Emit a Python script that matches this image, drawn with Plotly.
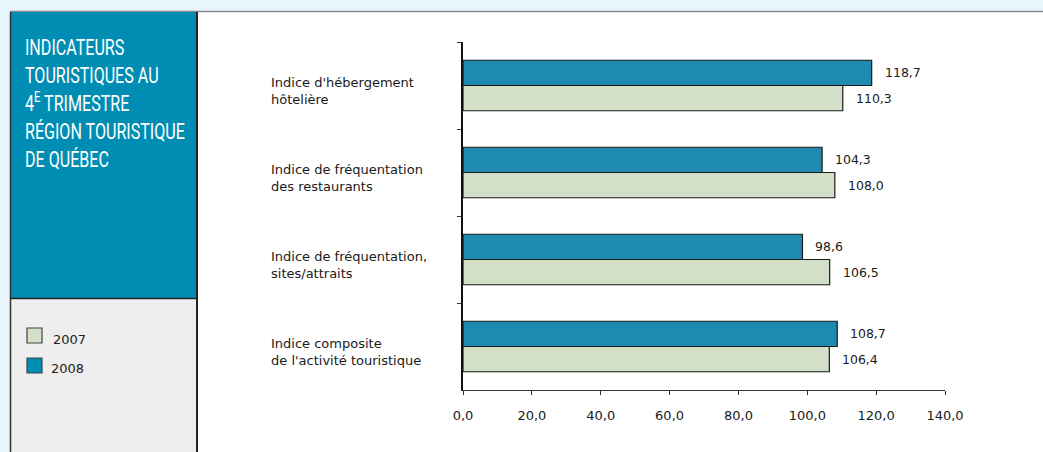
import plotly.graph_objects as go

categories = [
    "Indice d'hébergement<br>hôtelière",
    "Indice de fréquentation<br>des restaurants",
    "Indice de fréquentation,<br>sites/attraits",
    "Indice composite<br>de l'activité touristique",
]
cat_keys = ["c1", "c2", "c3", "c4"]
values_2008 = [118.7, 104.3, 98.6, 108.7]
values_2007 = [110.3, 108.0, 106.5, 106.4]
series_names = ["2007", "2008"]
x_ticks = [0, 20, 40, 60, 80, 100, 120, 140]

W, H = 1043, 452
L, R, T, B = 463, 98, 42, 62
PW, PH = W - L - R, H - T - B

def px(p):
    return (p - L) / PW

def py(p):
    return 1 - (p - T) / PH

C2008 = "#1e8ab0"
C2007 = "#d3dfc6"
PANEL = "#008db3"

fig = go.Figure()
fig.add_trace(go.Bar(y=cat_keys, x=values_2008, orientation="h", name="2008",
                     marker=dict(color=C2008, line=dict(color="#1a1a1a", width=1.2))))
fig.add_trace(go.Bar(y=cat_keys, x=values_2007, orientation="h", name="2007",
                     marker=dict(color=C2007, line=dict(color="#1a1a1a", width=1.2))))

lab_font = dict(family="DejaVu Sans", size=13, color="#1a1a1a")
val_font = dict(family="DejaVu Sans", size=12.5, color="#1a1a1a")

# value labels
for k, v in zip(cat_keys, values_2008):
    fig.add_annotation(x=v, y=k, text=f"{v:.1f}".replace(".", ","), showarrow=False,
                       xanchor="left", xshift=11, yshift=13, font=val_font)
for k, v in zip(cat_keys, values_2007):
    fig.add_annotation(x=v, y=k, text=f"{v:.1f}".replace(".", ","), showarrow=False,
                       xanchor="left", xshift=11, yshift=-13, font=val_font)

# category labels
for k, c in zip(cat_keys, categories):
    fig.add_annotation(x=px(269), xref="paper", y=k, text=c, showarrow=False,
                       xanchor="left", align="left", yshift=-5, font=lab_font)

shapes = [
    dict(type="rect", xref="paper", yref="paper", x0=px(10), x1=px(1060), y0=py(12), y1=py(470),
         fillcolor="white", line=dict(width=0), layer="below"),
    dict(type="line", xref="paper", yref="paper", x0=px(10), x1=px(1060), y0=py(11.5), y1=py(11.5),
         line=dict(color="#8a8a8a", width=1.5), layer="below"),
    dict(type="rect", xref="paper", yref="paper", x0=px(10), x1=px(197), y0=py(12), y1=py(298),
         fillcolor=PANEL, line=dict(width=0), layer="below"),
    dict(type="rect", xref="paper", yref="paper", x0=px(10), x1=px(197), y0=py(298), y1=py(470),
         fillcolor="#eeeeee", line=dict(width=0), layer="below"),
    dict(type="line", xref="paper", yref="paper", x0=px(10.5), x1=px(10.5), y0=py(12), y1=py(470),
         line=dict(color="#333333", width=1.5), layer="below"),
    dict(type="line", xref="paper", yref="paper", x0=px(197), x1=px(197), y0=py(12), y1=py(470),
         line=dict(color="#222222", width=2), layer="below"),
    dict(type="line", xref="paper", yref="paper", x0=px(10), x1=px(197), y0=py(298.5), y1=py(298.5),
         line=dict(color="#222222", width=1.5), layer="below"),
    # legend boxes
    dict(type="rect", xref="paper", yref="paper", x0=px(27), x1=px(42), y0=py(328), y1=py(343),
         fillcolor=C2007, line=dict(color="#444444", width=1.2)),
    dict(type="rect", xref="paper", yref="paper", x0=px(27), x1=px(42), y0=py(358), y1=py(373),
         fillcolor=PANEL, line=dict(color="#444444", width=1.2)),
]

fig.add_annotation(x=px(51), y=py(339), xref="paper", yref="paper", text=series_names[0],
                   showarrow=False, xanchor="left", yanchor="middle",
                   font=dict(family="DejaVu Sans", size=13, color="#222222"))
fig.add_annotation(x=px(49), y=py(368), xref="paper", yref="paper", text=series_names[1],
                   showarrow=False, xanchor="left", yanchor="middle",
                   font=dict(family="DejaVu Sans", size=13, color="#222222"))

title = ("INDICATEURS<br>TOURISTIQUES AU<br>4<sup>E</sup> TRIMESTRE<br>"
         "RÉGION TOURISTIQUE<br>DE QUÉBEC")
fig.add_annotation(x=px(23), y=py(33), xref="paper", yref="paper", text=title,
                   showarrow=False, xanchor="left", yanchor="top", align="left",
                   font=dict(family="Roboto", size=21.5, color="white"))

fig.update_layout(
    width=W, height=H,
    margin=dict(l=L, r=R, t=T, b=B, pad=0),
    paper_bgcolor="#e8f5fd",
    plot_bgcolor="rgba(0,0,0,0)",
    barmode="group", bargap=0.42, bargroupgap=0,
    showlegend=False,
    shapes=shapes,
    separators=", ",
    xaxis=dict(range=[0, 140], tickvals=x_ticks, tickformat=".1f", showgrid=False,
               zeroline=False, showline=True, linecolor="#333333", linewidth=1,
               ticks="outside", ticklen=4, tickcolor="#333333", ticklabelstandoff=9,
               tickfont=dict(family="DejaVu Sans", size=13, color="#1a1a1a")),
    yaxis=dict(autorange="reversed", showticklabels=False, showgrid=False, zeroline=False,
               showline=True, linecolor="#111111", linewidth=1.5, ticks="outside",
               tickson="boundaries", ticklen=4, tickcolor="#333333"),
)

post = """
document.body.style.margin = '0';
document.body.style.padding = '0';
(function(){
  var gd = document.getElementById('{plot_id}');
  function condense(){
    var ts = gd.querySelectorAll('text.annotation-text');
    for (var i = 0; i < ts.length; i++) {
      var t = ts[i];
      if (t.textContent.indexOf('INDICATEURS') === 0) {
        t.style.transform = '';
        var bb = t.getBBox();
        var s = 160 / bb.width;
        if (s > 1) s = 1;
        t.style.transformBox = 'fill-box';
        t.style.transformOrigin = '0 0';
        t.style.transform = 'scaleX(' + s + ')';
      }
    }
  }
  try { condense(); } catch (e) {}
  if (gd && gd.on) gd.on('plotly_afterplot', function(){ try { condense(); } catch (e) {} });
  setTimeout(function(){ try { condense(); } catch (e) {} }, 30);
})();
"""

fig.write_html("out.html", post_script=post, config={"displayModeBar": False})
